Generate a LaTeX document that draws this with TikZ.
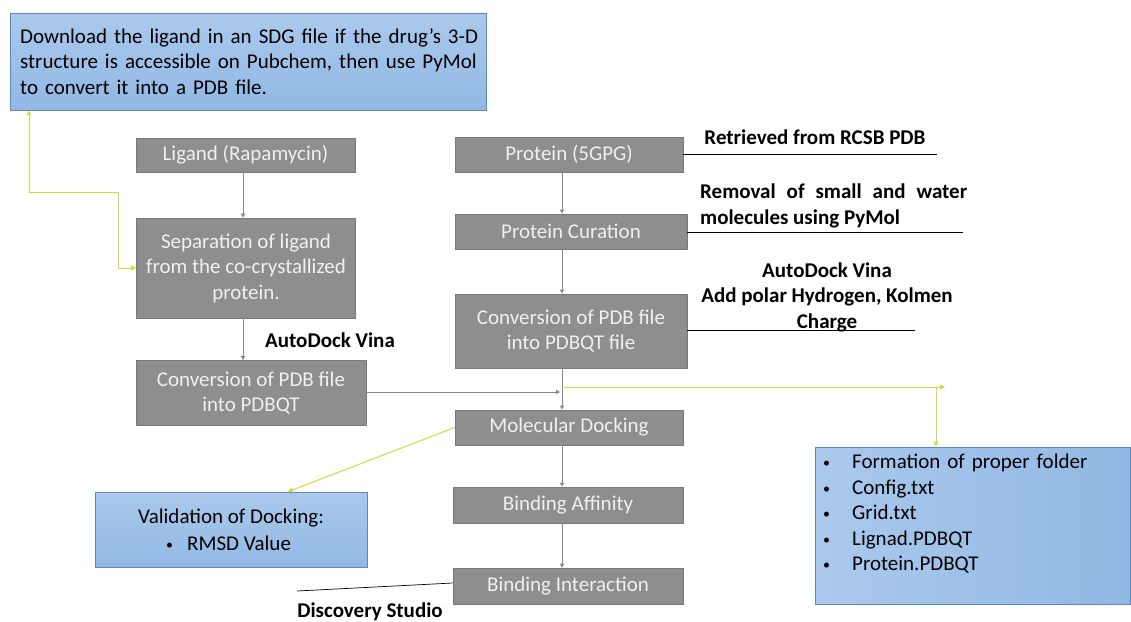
\documentclass[tikz,border=0pt]{standalone}
\usepackage{fontspec}
\setmainfont{Carlito}
\usetikzlibrary{arrows.meta}
\definecolor{boxgray}{RGB}{142,142,142}
\definecolor{boxedge}{RGB}{120,120,120}
\definecolor{boxtext}{RGB}{240,240,240}
\definecolor{lineyel}{RGB}{205,222,60}
\definecolor{arrgray}{RGB}{135,135,135}
\definecolor{bluea}{RGB}{170,201,236}
\definecolor{blueb}{RGB}{145,184,228}
\definecolor{blueedge}{RGB}{95,135,185}
\newcommand{\smbul}{\makebox[0pt][l]{\raisebox{1pt}{\fontsize{14}{14}\selectfont •}}}
\begin{document}
\begin{tikzpicture}[x=1pt,y=-1pt,
  txt/.style={font=\fontsize{21}{25.5}\selectfont},
  graybox/.style={txt,draw=boxedge,fill=boxgray,text=boxtext,align=center,inner sep=0pt,line width=0.6pt},
  bluebox/.style={draw=blueedge,line width=0.6pt,top color=bluea,bottom color=blueb},
  garrow/.style={draw=arrgray,line width=0.8pt,-{Triangle[length=4pt,width=4pt]}},
  yarrow/.style={draw=lineyel,line width=1pt,-{Triangle[length=5pt,width=5pt]}},
  lbl/.style={font=\fontsize{21}{25.5}\selectfont\bfseries,inner sep=0pt},
  uline/.style={draw=black,line width=0.7pt}]
\useasboundingbox (0,0) rectangle (1131,621);
\fill[white] (0,0) rectangle (1131,621);

% top blue box
\node[bluebox,minimum width=476pt,minimum height=97pt,inner sep=0pt] (dl) at (248,61.5) {};
\node[txt,anchor=west,align=left,inner sep=0pt,text width=470pt] (dlt) at (20,61.5)
  {Download the ligand in an SDG file if the drug's 3-D\\structure is accessible on Pubchem, then use PyMol\\to convert it into a PDB file.};

% left column
\node[graybox,minimum width=219pt,minimum height=34pt] (lig) at (245.5,155) {Ligand (Rapamycin)};
\node[graybox,minimum width=219pt,minimum height=100pt] (sep) at (246,268) {Separation of ligand\\from the co-crystallized\\protein.};
\node[graybox,minimum width=230pt,minimum height=65pt] (convL) at (251,393) {Conversion of PDB file\\into PDBQT};

% right column
\node[graybox,minimum width=228pt,minimum height=35pt] (prot) at (569,154.5) {Protein (5GPG)};
\node[graybox,minimum width=232pt,minimum height=35pt] (cur) at (571,231.5) {Protein Curation};
\node[graybox,minimum width=232pt,minimum height=74pt] (convR) at (571,331) {Conversion of PDB file\\into PDBQT file};
\node[graybox,minimum width=228pt,minimum height=35pt] (dock) at (569,427.5) {Molecular Docking};
\node[graybox,minimum width=230pt,minimum height=36pt] (aff) at (568,505) {Binding Affinity};
\node[graybox,minimum width=230pt,minimum height=36pt] (int) at (568,586) {Binding Interaction};

% validation box
\node[bluebox,minimum width=272pt,minimum height=75pt,inner sep=0pt] (val) at (231,529.5) {};
\node[txt,inner sep=0pt] (valt) at (231,518) {Validation of Docking:};
\node[txt,anchor=west,inner sep=0pt] (valb) at (166,543) {\smbul\hspace{21pt}RMSD Value};

% right blue box
\node[draw=blueedge,line width=0.6pt,left color=bluea,right color=blueb,minimum width=315pt,minimum height=157pt,inner sep=0pt] (files) at (972.5,525.5) {};
\node[txt,anchor=north west,align=left,inner sep=0pt,text width=300pt] (filest) at (823,454)
  {\smbul\hspace{29pt}Formation of proper folder\\
   \smbul\hspace{29pt}Config.txt\\
   \smbul\hspace{29pt}Grid.txt\\
   \smbul\hspace{29pt}Lignad.PDBQT\\
   \smbul\hspace{29pt}Protein.PDBQT};

% labels
\node[lbl] (l1) at (815,137) {Retrieved from RCSB PDB};
\node[lbl,anchor=north west,align=justify,text width=267pt] (l2) at (700,184)
  {Removal of small and water\linebreak molecules using PyMol};
\node[lbl,align=center] (l3) at (827,297) {AutoDock Vina\\Add polar Hydrogen, Kolmen\\Charge};
\node[lbl] (l4) at (330,340) {AutoDock Vina};
\node[lbl] (l5) at (370,612) {Discovery Studio};

% label lines
\coordinate (e1) at (937,154);
\coordinate (e2) at (963,232);
\coordinate (e3) at (915,330);
\coordinate (e4) at (297,591);
\draw[uline] (prot.east |- e1) -- (e1);
\draw[uline] (cur.east |- e2) -- (e2);
\draw[uline] (convR.east |- e3) -- (e3);
\draw[uline] ([yshift=3pt]int.west) -- (e4);

% gray arrows
\draw[garrow] (lig.south -| 243,0) -- (sep.north -| 243,0);
\draw[garrow] (sep.south -| 243,0) -- (convL.north -| 243,0);
\draw[garrow] (prot.south -| 562,0) -- (cur.north -| 562,0);
\draw[garrow] (cur.south -| 562,0) -- (convR.north -| 562,0);
\draw[garrow] (convR.south -| 562,0) -- (dock.north -| 562,0);
\coordinate (mj) at (560,392);
\draw[garrow] (convL.east |- mj) -- (mj);
\draw[garrow] (dock.south -| 562,0) -- (aff.north -| 562,0);
\draw[garrow] (aff.south -| 562,0) -- (int.north -| 562,0);

% yellow connectors
\coordinate (ya) at (118,268);
\coordinate (yb) at (118,192);
\coordinate (yc) at (29,192);
\draw[draw=lineyel,line width=1pt,{Triangle[length=5pt,width=5pt]}-{Triangle[length=5pt,width=5pt]}]
  (dl.south -| yc) -- (yc) -- (yb) -- (ya) -- (sep.west |- ya);
\coordinate (ys) at (562,387);
\coordinate (ye) at (945,387);
\coordinate (yd) at (936,387);
\draw[yarrow] (ys) -- (ye);
\draw[yarrow] (yd) -- (files.north -| yd);
\draw[yarrow] (dock.west) -- (val.north -| 288,0);
\end{tikzpicture}
\end{document}
